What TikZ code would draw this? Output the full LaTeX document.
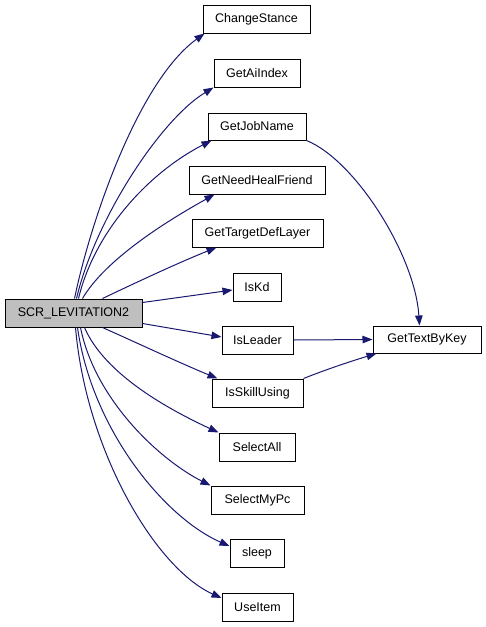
\documentclass[tikz,border=0pt]{standalone}
\usepackage{fontspec}
\setmainfont{Liberation Sans}
\usetikzlibrary{arrows.meta,calc}
\definecolor{edgeblue}{HTML}{191970}
\definecolor{rootgray}{HTML}{BFBFBF}
\begin{document}
\begin{tikzpicture}[x=1pt,y=-1pt,
  fn/.style={draw=black, line width=1pt, minimum height=27pt, inner sep=0pt,
    font=\fontsize{12.5}{14}\selectfont, fill=white},
  root/.style={fn, fill=rootgray},
  call/.style={draw=edgeblue, line width=1pt, -{Triangle[length=10pt,width=7.5pt]}}
]
\useasboundingbox (0,0) rectangle (485,627);
\node[root, minimum width=137pt, minimum height=28pt] (scr) at (73.5,313) {SCR\_LEVITATION2};
\node[fn, minimum width=107pt, minimum height=28pt] (cs) at (256.5,19) {ChangeStance};
\node[fn, minimum width=86pt, minimum height=28pt] (ai) at (257,73) {GetAiIndex};
\node[fn, minimum width=98pt] (jn) at (257,126.5) {GetJobName};
\node[fn, minimum width=136pt, minimum height=28pt] (nh) at (257,180) {GetNeedHealFriend};
\node[fn, minimum width=131pt, minimum height=28pt] (td) at (257.5,233) {GetTargetDefLayer};
\node[fn, minimum width=48pt, minimum height=28pt] (kd) at (257,287) {IsKd};
\node[fn, minimum width=71pt, minimum height=28pt] (ld) at (257.5,340) {IsLeader};
\node[fn, minimum width=91pt, minimum height=28pt] (su) at (257.5,393) {IsSkillUsing};
\node[fn, minimum width=76pt, minimum height=28pt] (sa) at (257,447) {SelectAll};
\node[fn, minimum width=93pt, minimum height=28pt] (mp) at (257.5,500) {SelectMyPc};
\node[fn, minimum width=54pt, minimum height=28pt] (sl) at (257,553) {sleep};
\node[fn, minimum width=71pt, minimum height=28pt] (ui) at (257.5,607) {UseItem};
\node[fn, minimum width=108pt] (gt) at (427,339.5) {GetTextByKey};

\draw[call] ($(scr.north west)+(70,0)$) .. controls (92,215) and (140,80) .. ($(cs.south west)+(2,0)$);
\draw[call] ($(scr.north west)+(72,0)$) .. controls (95,220) and (160,120) .. (ai.south west);
\draw[call] ($(scr.north west)+(74,0)$) .. controls (95,230) and (150,172) .. ($(jn.south west)+(4,0)$);
\draw[call] ($(scr.north west)+(78,0)$) .. controls (105,260) and (165,222) .. ($(nh.south west)+(26,0)$);
\draw[call] ($(scr.north west)+(98,0)$) .. controls (135,283) and (180,262) .. ($(td.south west)+(25,0)$);
\draw[call] ($(scr.north east)+(0,4)$) -- ($(kd.west)+(0,3)$);
\draw[call] ($(scr.south east)+(0,-4)$) -- ($(ld.west)+(0,-3)$);
\draw[call] ($(scr.south west)+(98,0)$) .. controls (135,342) and (180,363) .. ($(su.north west)+(6,0)$);
\draw[call] ($(scr.south west)+(80,0)$) .. controls (105,375) and (170,410) .. (sa.north west);
\draw[call] ($(scr.south west)+(76,0)$) .. controls (95,400) and (160,460) .. (mp.north west);
\draw[call] ($(scr.south west)+(73,0)$) .. controls (92,430) and (165,518) .. ($(sl.west)+(0,-7)$);
\draw[call] ($(scr.south west)+(71,0)$) .. controls (86,450) and (155,568) .. ($(ui.west)+(0,-9)$);

\draw[call] (jn.south east) .. controls (355,160) and (415,255) .. ($(gt.north west)+(47,0)$);
\draw[call] (ld.east) -- (gt.west);
\draw[call] (su.north east) .. controls (330,368) and (355,360) .. ($(gt.south west)+(4,0)$);
\end{tikzpicture}
\end{document}
